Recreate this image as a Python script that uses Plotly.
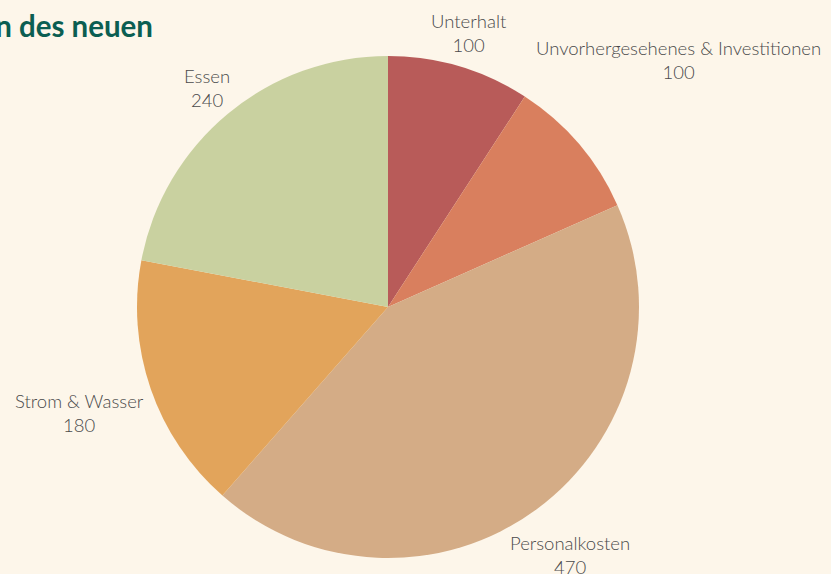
import math
import plotly.graph_objects as go

categories = ["Unterhalt", "Unvorhergesehenes & Investitionen", "Personalkosten", "Strom & Wasser", "Essen"]
values = [100, 100, 470, 180, 240]
colors = ["#b85b59", "#d97f5e", "#d4ac86", "#e2a45b", "#c9d1a0"]

W, H = 831, 574
cx, cy, r = 388, 307, 251
FS = 18.5
CHAR_W = 8.8   # approx. label glyph width (px)
LINE_H = 48    # two-line label height (px)

fig = go.Figure(go.Pie(
    labels=categories,
    values=values,
    sort=False,
    direction="clockwise",
    rotation=0,
    marker=dict(colors=colors, line=dict(width=0)),
    textposition="none",
    showlegend=False,
    hoverinfo="label+value",
    domain=dict(x=[(cx - r) / W, (cx + r) / W], y=[1 - (cy + r) / H, 1 - (cy - r) / H]),
))

# outside labels along each slice's mid-angle, derived from the values
total = sum(values)
cum = 0
for lab, v in zip(categories, values):
    mid = (cum + v / 2) / total * 2 * math.pi
    cum += v
    s, c = math.sin(mid), math.cos(mid)
    w = (len(lab) + lab.count("&") + lab.count("W")) * CHAR_W
    support = abs(s) * w / 2 + abs(c) * LINE_H / 2
    d = r + 1 + support
    px, py = cx + d * s, cy - d * c
    fig.add_annotation(
        x=px / W, y=1 - py / H, xref="paper", yref="paper",
        xanchor="center", yanchor="middle", showarrow=False,
        text=f"{lab}<br>{v}", align="center",
        font=dict(family="Lato", size=FS, color="#4a4a4a", weight=300),
    )

fig.update_layout(
    width=W, height=H,
    margin=dict(l=0, r=0, t=0, b=0),
    paper_bgcolor="#fdf6ea",
    plot_bgcolor="#fdf6ea",
    title=dict(text="<b>Kosten des neuen</b>", xref="container", x=153 / W, xanchor="right",
               yref="container", y=1 - 27 / H, yanchor="middle",
               font=dict(family="Lato", size=29.5, color="#0b5e52")),
)

fig.write_html("out.html", config={"displayModeBar": False},
               post_script="document.body.style.margin='0';document.body.style.overflow='hidden';")
